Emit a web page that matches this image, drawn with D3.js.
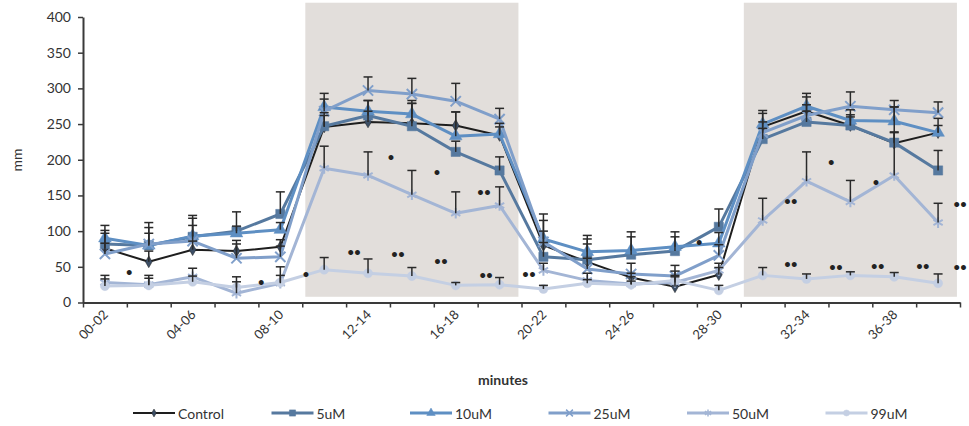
<!DOCTYPE html>
<html>
<head>
<meta charset="utf-8">
<script src="https://cdn.jsdelivr.net/npm/d3@7"></script>
<style>
  html, body { margin: 0; padding: 0; background: #fff; }
  svg { display: block; font-family: Lato, "Open Sans", sans-serif; }
</style>
</head>
<body>
<svg id="chart" width="969" height="426"></svg>
<script>
// ---- data ----
const categories = ['00-02','02-04','04-06','06-08','08-10','10-12','12-14','14-16','16-18','18-20',
                    '20-22','22-24','24-26','26-28','28-30','30-32','32-34','34-36','36-38','38-40'];
const yTicks = [0, 50, 100, 150, 200, 250, 300, 350, 400];

const control = [76, 57, 74, 72, 78, 246, 253, 251, 248, 234, 80, 57, 35, 22, 39, 246, 268, 248, 223, 238];
const uM5     = [82, 80, 92, 100, 124, 247, 262, 247, 211, 185, 64, 60, 67, 72, 106, 229, 253, 248, 224, 185];
const uM10    = [90, 80, 93, 97, 102, 274, 268, 264, 233, 236, 89, 71, 73, 78, 83, 250, 275, 255, 254, 238];
const uM25    = [68, 82, 86, 62, 64, 268, 297, 292, 282, 257, 85, 47, 40, 37, 66, 238, 262, 275, 270, 266];
const uM50    = [28, 25, 36, 13, 27, 188, 178, 151, 125, 136, 45, 31, 26, 28, 45, 115, 170, 141, 178, 112];
const uM99    = [23, 24, 29, 21, 28, 46, 41, 37, 24, 25, 19, 27, 25, 31, 17, 38, 33, 38, 36, 27];

// upper error bars (SEM)
const errControl = [21, 15, 12, 15, 10, 20, 15, 28, 19, 12, 35, 25, 6, 22, 10, 19, 20, 12, 15, 10];
const err5       = [19, 32, 30, 27, 31, 15, 21, 32, 15, 19, 20, 34, 32, 27, 25, 15, 15, 15, 15, 28];
const err10      = [18, 25, 25, 10, 10, 11, 15, 19, 34, 15, 35, 18, 19, 14, 15, 19, 18, 15, 20, 20];
const err25      = [15, 15, 22, 20, 15, 25, 19, 22, 25, 15, 15, 15, 15, 15, 15, 15, 15, 20, 4, 15];
const err50      = [10, 13, 12, 23, 23, 31, 33, 34, 30, 26, 10, 10, 10, 10, 10, 31, 41, 30, 105, 27];
const err99      = [10, 10, 8, 8, 10, 17, 20, 12, 4, 10, 5, 5, 5, 5, 7, 11, 7, 5, 6, 13];

// shaded stimulation periods (first and last category covered)
const shadeRanges = [['10-12', '18-20'], ['30-32', '38-40']];

// significance marks: position in categories, value, label
const sigMarks = [
  { pos: 1.03, v: 41, t: '•' }, { pos: 4.04, v: 27, t: '•' }, { pos: 5.06, v: 39, t: '•' },
  { pos: 6.16, v: 69, t: '••' }, { pos: 7.16, v: 67, t: '••' }, { pos: 8.14, v: 57, t: '••' },
  { pos: 9.17, v: 37, t: '••' }, { pos: 10.15, v: 39, t: '••' },
  { pos: 7.0, v: 203, t: '•' }, { pos: 8.05, v: 182, t: '•' }, { pos: 9.12, v: 154, t: '••' },
  { pos: 14.03, v: 84, t: '•' },
  { pos: 16.12, v: 141, t: '••' }, { pos: 17.04, v: 196, t: '•' }, { pos: 18.06, v: 168, t: '•' },
  { pos: 19.98, v: 137, t: '••' },
  { pos: 16.12, v: 53, t: '••' }, { pos: 17.15, v: 48, t: '••' }, { pos: 18.1, v: 50, t: '••' },
  { pos: 19.13, v: 50, t: '••' }, { pos: 19.98, v: 48, t: '••' }
];

const series = [
  { name: 'Control', values: control, err: errControl, color: '#1e1e1e', width: 2,   symbol: d3.symbolDiamond,  size: 40, stroke: false },
  { name: '5uM',     values: uM5,     err: err5,       color: '#56799f', width: 3,   symbol: d3.symbolSquare,   size: 85, stroke: false },
  { name: '10uM',    values: uM10,    err: err10,      color: '#5e8fc3', width: 3,   symbol: d3.symbolTriangle, size: 70, stroke: false },
  { name: '25uM',    values: uM25,    err: err25,      color: '#809fca', width: 3,   symbol: d3.symbolTimes,    size: 70, stroke: true },
  { name: '50uM',    values: uM50,    err: err50,      color: '#a3b5d5', width: 3,   symbol: d3.symbolAsterisk, size: 80, stroke: true },
  { name: '99uM',    values: uM99,    err: err99,      color: '#c4cfe3', width: 3,   symbol: d3.symbolCircle,   size: 65, stroke: false }
];

// ---- layout ----
const M = { left: 83, right: 960, top: 17, bottom: 302.5 };
const svg = d3.select('#chart');

const x = d3.scaleBand().domain(categories).range([M.left, M.right]).padding(0);
const xEdge = d3.scaleLinear().domain([0, categories.length]).range([M.left, M.right]);
const y = d3.scaleLinear().domain([0, 400]).range([M.bottom, M.top]);
const bw = x.bandwidth();
const cx = c => x(c) + bw / 2;

// shaded periods
svg.append('g').selectAll('rect').data(shadeRanges).enter().append('rect')
  .attr('x', d => x(d[0]) + bw * 0.07)
  .attr('width', d => x(d[1]) + bw * 0.93 - x(d[0]) - bw * 0.07)
  .attr('y', y(420))
  .attr('height', y(8) - y(420))
  .attr('fill', '#e2dedb');

// axes
const yAxis = svg.append('g').attr('transform', `translate(${M.left},0)`)
  .call(d3.axisLeft(y).tickValues(yTicks).tickSize(5).tickSizeOuter(0).tickPadding(7));
yAxis.selectAll('text').attr('font-size', 14).attr('fill', '#333').attr('font-family', 'Lato, sans-serif');

const xAxis = svg.append('g').attr('transform', `translate(0,${M.bottom})`)
  .call(d3.axisBottom(xEdge).tickValues(d3.range(categories.length + 1)).tickFormat('').tickSize(5).tickSizeOuter(0));

[yAxis, xAxis].forEach(g => {
  g.select('.domain').attr('stroke', '#3a3a3a').attr('stroke-width', 2);
  g.selectAll('.tick line').attr('stroke', '#3a3a3a').attr('stroke-width', 1.5);
});

// rotated category labels (every second one)
svg.append('g').selectAll('text')
  .data(categories.filter((c, i) => i % 2 === 0)).enter().append('text')
  .attr('transform', d => `translate(${cx(d) + 4},${M.bottom + 13}) rotate(-45)`)
  .attr('text-anchor', 'end')
  .attr('font-size', 13)
  .attr('fill', '#333')
  .text(d => d);

// axis titles
svg.append('text')
  .attr('transform', `translate(22,160) rotate(-90)`)
  .attr('text-anchor', 'middle').attr('font-size', 14).attr('fill', '#333')
  .text('mm');
svg.append('text')
  .attr('x', 503).attr('y', 385)
  .attr('text-anchor', 'middle').attr('font-size', 14).attr('font-weight', 'bold').attr('fill', '#333')
  .text('minutes');

// lines + markers
const line = d3.line().x((d, i) => cx(categories[i])).y(d => y(d));
series.forEach(s => {
  const g = svg.append('g');
  g.append('path').datum(s.values)
    .attr('fill', 'none').attr('stroke', s.color).attr('stroke-width', s.width)
    .attr('stroke-linejoin', 'round')
    .attr('d', line);
  const sym = d3.symbol().type(s.symbol).size(s.size);
  g.selectAll('path.mk').data(s.values).enter().append('path')
    .attr('class', 'mk')
    .attr('transform', (d, i) => `translate(${cx(categories[i])},${y(d)})`)
    .attr('d', sym)
    .attr('fill', s.stroke ? 'none' : (s.name === 'Control' ? '#3d4f66' : s.color))
    .attr('stroke', s.color)
    .attr('stroke-width', s.stroke ? 2 : 0.5);
});

// error bars (upper only)
series.forEach(s => {
  const g = svg.append('g').attr('stroke', '#2a2a2a').attr('stroke-width', 1.5);
  s.values.forEach((v, i) => {
    const px = cx(categories[i]);
    g.append('line').attr('x1', px).attr('x2', px).attr('y1', y(v)).attr('y2', y(v + s.err[i]));
    g.append('line').attr('x1', px - 4.5).attr('x2', px + 4.5).attr('y1', y(v + s.err[i])).attr('y2', y(v + s.err[i]));
  });
});

// significance marks
svg.append('g').selectAll('text').data(sigMarks).enter().append('text')
  .attr('x', d => xEdge(d.pos))
  .attr('y', d => y(d.v))
  .attr('text-anchor', 'middle')
  .attr('dominant-baseline', 'central')
  .attr('font-family', 'DejaVu Sans, sans-serif')
  .attr('font-size', 14)
  .attr('font-weight', 'bold')
  .attr('fill', '#222')
  .attr('letter-spacing', -2)
  .text(d => d.t);

// legend
const legend = svg.append('g').attr('transform', 'translate(133,413)');
series.forEach((s, i) => {
  const g = legend.append('g').attr('transform', `translate(${i * 138.5},0)`);
  g.append('line').attr('x1', 0).attr('x2', 42).attr('y1', 0).attr('y2', 0)
    .attr('stroke', s.color).attr('stroke-width', s.width);
  g.append('path').attr('transform', 'translate(21,0)')
    .attr('d', d3.symbol().type(s.symbol).size(s.size * 0.45))
    .attr('fill', s.stroke ? 'none' : (s.name === 'Control' ? '#3d4f66' : s.color))
    .attr('stroke', s.color).attr('stroke-width', s.stroke ? 1.5 : 0.5);
  g.append('text').attr('x', 45).attr('y', 0).attr('dominant-baseline', 'central')
    .attr('font-size', 14).attr('fill', '#333').text(s.name);
});
</script>
</body>
</html>
